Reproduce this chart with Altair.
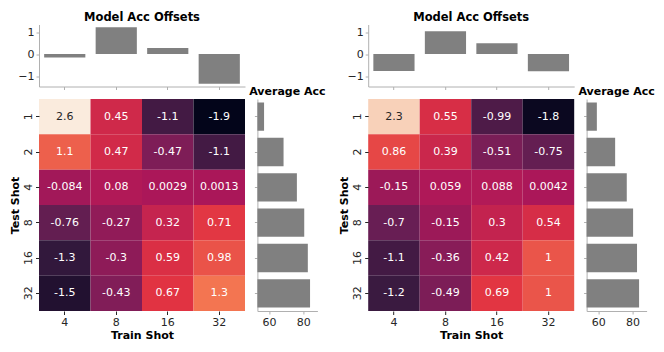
import altair as alt
import numpy as np
import pandas as pd

train_shots = ["4", "8", "16", "32"]
test_shots = ["1", "2", "4", "8", "16", "32"]

left_vals = [
    [2.6, 0.45, -1.1, -1.9],
    [1.1, 0.47, -0.47, -1.1],
    [-0.084, 0.08, 0.0029, 0.0013],
    [-0.76, -0.27, 0.32, 0.71],
    [-1.3, -0.3, 0.59, 0.98],
    [-1.5, -0.43, 0.67, 1.3],
]
right_vals = [
    [2.3, 0.55, -0.99, -1.8],
    [0.86, 0.39, -0.51, -0.75],
    [-0.15, 0.059, 0.088, 0.0042],
    [-0.7, -0.15, 0.3, 0.54],
    [-1.1, -0.36, 0.42, 1.0],
    [-1.2, -0.49, 0.69, 1.0],
]
left_offsets = [-0.15, 1.21, 0.27, -1.34]
right_offsets = [-0.77, 1.03, 0.49, -0.78]
left_avg = [57.1, 68.5, 76.3, 80.6, 82.7, 84.0]
right_avg = [59.2, 69.9, 76.7, 80.4, 82.7, 83.9]

rocket = ["#03051a", "#35193e", "#701f57", "#ad1759", "#e13342",
          "#f37651", "#f6b48f", "#faebdd"]
vmin, vmax = -1.9, 2.6
stops = list(np.linspace(vmin, vmax, len(rocket)))

FONT = "DejaVu Sans"
TXT = "#262626"
SPINE = "#b0b0b0"

def heat(vals):
    rows = []
    for i, t in enumerate(test_shots):
        for j, s in enumerate(train_shots):
            v = vals[i][j]
            rows.append({"test": t, "train": s, "v": v, "label": format(v, ".2g")})
    df = pd.DataFrame(rows)
    base = alt.Chart(df).encode(
        x=alt.X("train:O", sort=train_shots, title="Train Shot",
                scale=alt.Scale(paddingInner=0, paddingOuter=0),
                axis=alt.Axis(domain=False, labelAngle=0, tickSize=3.5,
                              tickColor=TXT, labelPadding=2, titlePadding=2)),
        y=alt.Y("test:O", sort=test_shots, title="Test Shot",
                scale=alt.Scale(paddingInner=0, paddingOuter=0),
                axis=alt.Axis(domain=False, labelAngle=270, tickSize=3.5,
                              tickColor=TXT, labelPadding=2, titlePadding=2,
                              labelAlign="center", labelBaseline="bottom")),
    )
    rect = base.mark_rect().encode(
        color=alt.Color("v:Q", legend=None,
                        scale=alt.Scale(domain=stops, range=rocket,
                                        interpolate="rgb", clamp=True))
    )
    text = base.mark_text(fontSize=11, font=FONT).encode(
        text="label:N",
        color=alt.condition(alt.datum.v > 1.7, alt.value(TXT), alt.value("white")),
    )
    return alt.layer(rect, text).properties(width=206, height=212)

def top(offs):
    df = pd.DataFrame({"train": train_shots, "off": offs})
    return alt.Chart(df).mark_bar(color="#808080").encode(
        x=alt.X("train:O", sort=train_shots, title=None,
                scale=alt.Scale(paddingInner=0.2, paddingOuter=0.1),
                axis=alt.Axis(labels=False, tickSize=3, tickColor=SPINE,
                              domainColor=SPINE)),
        y=alt.Y("off:Q", title=None,
                scale=alt.Scale(domain=[-1.47, 1.34], nice=False),
                axis=alt.Axis(values=[-1, 0, 1], grid=False, tickSize=3,
                              tickColor=SPINE, domainColor=SPINE, labelPadding=2)),
    ).properties(width=206, height=62,
                 title=alt.TitleParams("Model Acc Offsets", fontSize=11.5,
                                       fontWeight="bold", font=FONT, offset=1,
                                       color="black"))

def avg(vals):
    df = pd.DataFrame({"test": test_shots, "acc": vals})
    return alt.Chart(df).mark_bar(color="#808080", clip=True).encode(
        y=alt.Y("test:O", sort=test_shots, title=None,
                scale=alt.Scale(paddingInner=0.2, paddingOuter=0.1),
                axis=alt.Axis(labels=False, tickSize=3, tickColor=SPINE,
                              domainColor=SPINE)),
        x=alt.X("acc:Q", title=None,
                scale=alt.Scale(domain=[53.2, 88.3], nice=False, zero=False),
                axis=alt.Axis(values=[60, 80], grid=False, tickSize=3,
                              tickColor=SPINE, domainColor=SPINE, labelPadding=2)),
    ).properties(width=60, height=212,
                 title=alt.TitleParams("Average Acc", fontSize=11,
                                       fontWeight="bold", font=FONT, offset=2,
                                       color="black"))

def blank(w, h):
    return alt.Chart(pd.DataFrame({"z": [0]})).mark_point(opacity=0).properties(
        width=w, height=h)

chart = alt.concat(
    top(left_offsets), blank(60, 62), blank(26, 62), top(right_offsets), blank(60, 62),
    heat(left_vals), avg(left_avg), blank(26, 212), heat(right_vals), avg(right_avg),
    columns=5,
    spacing={"row": 12.5, "column": 12.4},
    align="each",
    bounds="flush",
).properties(
    padding={"left": 1, "top": 3.5, "right": 0, "bottom": 0}
).configure(
    font=FONT
).configure_view(
    stroke=None
).configure_axis(
    labelFont=FONT, titleFont=FONT, labelFontSize=11, titleFontSize=11,
    labelColor=TXT, titleColor="black", titleFontWeight="bold"
)

chart.save("out.html", embed_options={"renderer": "svg", "actions": False})
